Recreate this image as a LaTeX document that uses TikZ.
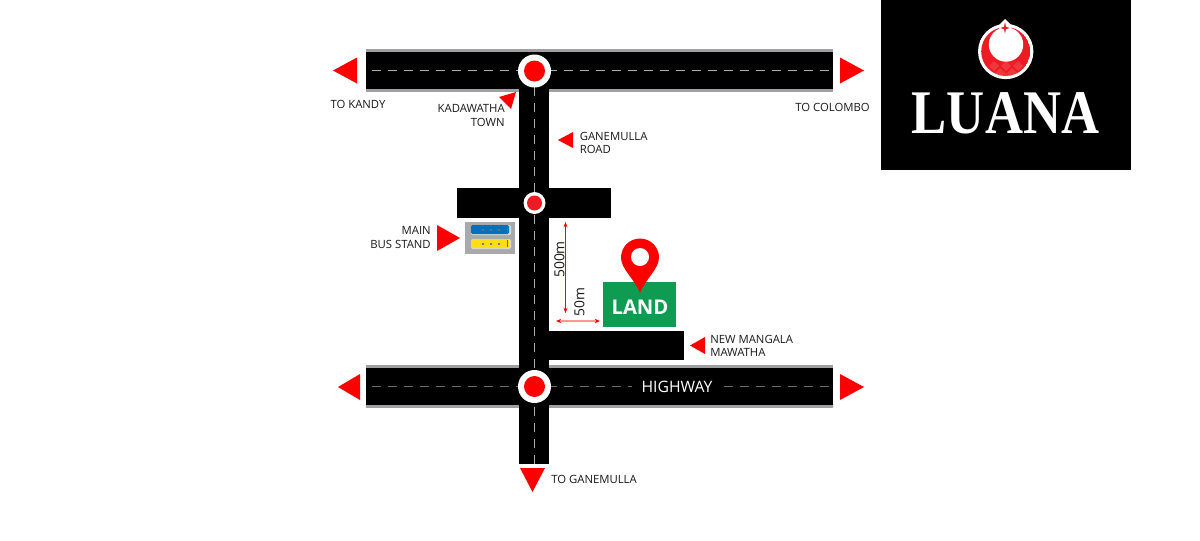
\documentclass[tikz,border=0pt]{standalone}
\usepackage{fontspec}
\setmainfont{Open Sans}
\newfontfamily\logofont{Liberation Serif}
\usetikzlibrary{
  arrows.meta,
  positioning,
  shapes.geometric,
  calc
}
\definecolor{roadGrey}{RGB}{160,160,162}
\definecolor{dashGrey}{RGB}{175,175,175}
\definecolor{dashDark}{RGB}{105,105,105}
\definecolor{markRed}{RGB}{255,0,0}
\definecolor{dotRed}{RGB}{237,28,36}
\definecolor{landGreen}{RGB}{15,155,82}
\definecolor{pinkLine}{RGB}{255,150,150}
\definecolor{busBlue}{RGB}{0,114,188}
\definecolor{busYellow}{RGB}{255,222,23}
\definecolor{standGrey}{RGB}{167,169,172}
\tikzset{
  place/.style={
    font=\fontsize{8.5}{9.7}\selectfont,
    inner sep=0pt,
    text=black!90
  },
  placeL/.style={place, align=left, anchor=west},
  placeR/.style={place, align=right, anchor=east, font=\fontsize{8.5}{11.2}\selectfont},
  flag/.style={fill=markRed, draw=none},
  centerline/.style={draw=dashGrey, line width=0.6pt, dash pattern=on 6.5pt off 5.5pt}
}
\newcommand{\roadbar}[2]{% name, centre y
  \fill[roadGrey] (366,#2-22) rectangle (833,#2+21);
  \fill[black] (366,#2-19) rectangle (833,#2+18);
  \coordinate (#1w) at (372,#2);
  \coordinate (#1e) at (833,#2);
}
\begin{document}
\begin{tikzpicture}[x=0.75pt,y=-0.75pt,>=Stealth]
  \useasboundingbox (0,0) rectangle (1200,540);

  % roads
  \roadbar{top}{70.5}
  \roadbar{high}{386.5}
  \fill[black] (519,70) rectangle (549,464);
  \fill[black] (457,188) rectangle (611,218);
  \fill[black] (549,331) rectangle (684,360);
  \draw[centerline] (topw) -- (tope);
  \draw[centerline, draw=dashDark, line width=0.8pt] (highw) -- (highe);
  \draw[centerline] (534.5,71) -- (534.5,464);

  % junctions
  \foreach \name/\y/\outer/\inner/\col in {jtop/71/33pt/21pt/markRed, jmid/203/22pt/15pt/dotRed, jhigh/386.5/33pt/21pt/markRed}{
    \node[circle, fill=white, inner sep=0pt, minimum size=0.75*\outer] (\name) at (534.5,\y) {};
    \node[circle, fill=\col, inner sep=0pt, minimum size=0.75*\inner] at (\name) {};
  }

  % arrows
  \foreach \a/\b/\c in {333/70.5/357, 864/70.5/840, 338/387/360, 864/387/840}{
    \fill[flag] (\a,\b) -- (\c,\b-13) -- (\c,\b+13) -- cycle;
  }
  \fill[flag] (520,468) -- (545,468) -- (532.5,492) -- cycle;
  \fill[flag] (499,97) -- (516,92) -- (511,109) -- cycle;
  \fill[flag] (558,140) -- (573,132) -- (573,148) -- cycle;
  \fill[flag] (437,225) -- (437,251) -- (460,238) -- cycle;
  \fill[flag] (690,345.5) -- (705,337) -- (705,354) -- cycle;

  % bus stand
  \fill[standGrey] (465,222) rectangle (515,254);
  \foreach \y/\col in {225/busBlue, 239/busYellow}{
    \fill[white!85!black, rounded corners=1pt] (471,\y) rectangle (511,\y+10);
    \fill[\col, rounded corners=1pt] (471,\y) rectangle (509,\y+9);
    \foreach \x in {482,490,498}{
      \fill[black!55] (\x,\y+3.5) rectangle (\x+2,\y+5.5);
    }
    \draw[black!60, line width=0.5pt] (507,\y+1) -- (507,\y+8);
  }

  % land and pin
  \fill[landGreen] (603,282) rectangle (675.5,327);
  \node[text=white, inner sep=0pt, font=\fontsize{15.2}{15.2}\selectfont\bfseries] (land) at (640,307) {LAND};
  \fill[markRed] (640,293) .. controls (634,278) and (621,269) .. (621,257.5)
    arc[start angle=180, end angle=360, radius=19]
    .. controls (659,269) and (646,278) .. (640,293) -- cycle;
  \node[circle, fill=white, inner sep=0pt, minimum size=13.5pt] (pinhole) at (640,257) {};

  % distances
  \coordinate (d5a) at (565.5,222);
  \coordinate (d5b) at (565.5,313);
  \coordinate (d50a) at (556,321);
  \coordinate (d50b) at (600,321);
  \draw[<->, markRed, line width=0.5pt, >={Stealth[length=4pt,width=3pt]}] (d5a) -- (d5b);
  \draw[<->, pinkLine, line width=0.8pt, >={Stealth[length=4pt,width=3.2pt,color=markRed]}] (d50a) -- (d50b);
  \node[place, rotate=90, font=\fontsize{10.4}{10}\selectfont] (len500) at (559.5,259.5) {500m};
  \node[place, rotate=90, font=\fontsize{10.4}{10}\selectfont] (len50) at (579.5,302) {50m};

  % labels
  \node[place] (kandy) at (358,104.5) {TO KANDY};
  \node[place] (colombo) at (832.5,107.5) {TO COLOMBO};
  \node[placeR] (kadawatha) at (505,115.5) {KADAWATHA\\TOWN};
  \node[placeL] (ganemulla) at (579.5,142.5) {GANEMULLA\\ROAD};
  \node[placeR] (busstand) at (431,237.5) {MAIN\\BUS STAND};
  \node[placeL] (mangala) at (710,345.5) {NEW MANGALA\\MAWATHA};
  \node[placeL] (toganemulla) at (551,479) {TO GANEMULLA};
  \node[place, fill=black, text=white, inner xsep=7pt, inner ysep=2pt,
    font=\fontsize{11.8}{12}\selectfont] (highway) at (677,387) {HIGHWAY};

  % logo
  \fill[black] (881,0) rectangle (1131,170);
  \node[circle, fill=white, inner sep=0pt, minimum size=41.5pt] (logoring) at (1005.7,51.5) {};
  \fill[white] (1005,19) -- (1012,26) -- (998,26) -- cycle;
  \begin{scope}
    \clip (1005.7,51.5) circle[radius=24.5];
    \fill[dotRed] (1005.7,51.5) circle[radius=24.5];
    \foreach \x/\y in {994/66, 1006/66, 1018/66, 988/73, 1000/73, 1012/73, 1024/73, 1006/78}{
      \fill[white, opacity=0.12] (\x,\y-5) -- (\x+5,\y) -- (\x,\y+5) -- (\x-5,\y) -- cycle;
    }
  \end{scope}
  \node[circle, fill=white, inner sep=0pt, minimum size=25.8pt] (logomoon) at (1006,44.5) {};
  \fill[white] (1005,28) circle[radius=6];
  \fill[dotRed] (1005,22) -- (1006,26.8) -- (1009.5,28) -- (1006,29.2) -- (1005,33.5)
    -- (1004,29.2) -- (1000.5,28) -- (1004,26.8) -- cycle;
  \node[text=white, inner sep=0pt, xscale=0.85, font=\logofont\bfseries\fontsize{46.5}{46.5}\selectfont] (logoname)
    at (1005.5,113.5) {LUANA};
\end{tikzpicture}
\end{document}
